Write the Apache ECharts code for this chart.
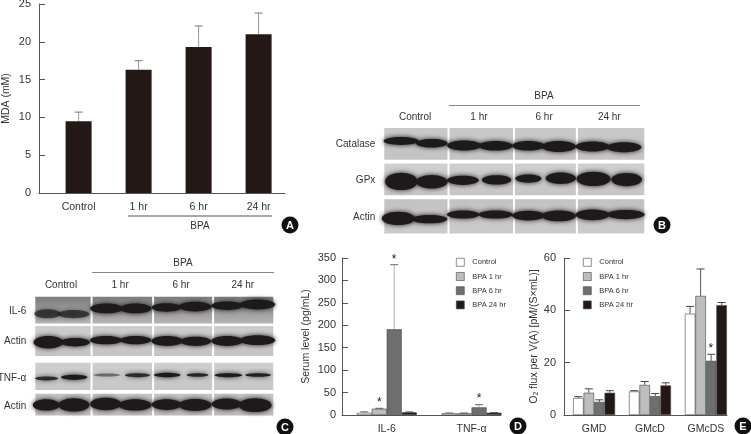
<!DOCTYPE html>
<html>
<head>
<meta charset="utf-8">
<title>BPA figure</title>
<script src="https://cdn.jsdelivr.net/npm/echarts@6/dist/echarts.min.js"></script>
<style>
html, body { margin: 0; padding: 0; background: #fff; }
#chart { width: 751px; height: 434px; }
</style>
</head>
<body>
<div id="chart"></div>
<script>
// panel A
const mdaLabels = ['Control', '1 hr', '6 hr', '24 hr']
const mdaValues = [9.5, 16.3, 19.3, 21]
const mdaTops = [10.7, 17.5, 22.1, 23.8]

// panel D
const serumGroups = ['IL-6', 'TNF-α']
const serumControl = [5, 4]
const serumBpa1 = [14, 4]
const serumBpa6 = [191, 17]
const serumBpa24 = [6, 5]
const serumTops = [[7, 4.5], [15, 4.5], [335, 23], [7, 5.5]]
const serumStars = [[-0.088, 32], [0.088, 350], [1.088, 41]]

// panel E
const fluxGroups = ['GMD', 'GMcD', 'GMcDS']
const fluxControl = [6.5, 9, 38.7]
const fluxBpa1 = [8.5, 11.5, 45.5]
const fluxBpa6 = [5, 7.2, 20.7]
const fluxBpa24 = [8.5, 11.3, 42]
const fluxTops = [[7, 9.3, 41.5], [10, 12.8, 55.8], [5.8, 8.2, 23.2], [9.3, 12.3, 43]]
const fluxStars = [[2.09, 26]]

const legendNames = ['Control', 'BPA 1 hr', 'BPA 6 hr', 'BPA 24 hr']

// blots: each band is [lane x, spread, y inside the row, thickness, darkness]
const catalaseBands = [[.545, .99, .365, .22, 1], [1.48, .88, .43, .24, 1], [2.47, .96, .49, .28, 1], [3.43, .96, .5, .27, 1], [4.43, .91, .5, .27, 1], [5.36, .96, .52, .31, 1], [6.39, .95, .52, .28, 1], [7.35, .97, .54, .28, 1]]
const gpxBands = [[.55, .9, .5, .49, 1], [1.48, .88, .51, .38, 1], [2.43, .88, .47, .26, 1], [3.46, .81, .46, .26, 1], [4.43, .71, .42, .23, 1], [5.42, .83, .41, .32, 1], [6.42, .95, .43, .4, 1], [7.43, .85, .45, .37, 1]]
const actinBandsB = [[.46, .92, .54, .37, 1], [1.41, 1, .56, .23, 1], [2.44, .91, .43, .23, 1], [3.43, .96, .43, .23, 1], [4.43, .91, .46, .27, 1], [5.36, .96, .47, .3, 1], [6.39, .95, .44, .3, 1], [7.4, 1.07, .43, .26, 1]]
const il6Bands = [[.44, .78, .57, .3, .7], [1.31, .97, .58, .28, .7], [2.41, 1, .39, .33, 1], [3.38, .95, .39, .33, 1], [4.41, .9, .36, .28, 1], [5.36, 1, .33, .33, 1], [6.43, .96, .3, .28, 1], [7.44, 1.08, .26, .33, 1]]
const actinBandsC1 = [[.47, .89, .54, .41, 1], [1.36, .89, .54, .28, 1], [2.39, .97, .47, .28, 1], [3.38, .94, .47, .27, 1], [4.43, .96, .5, .33, 1], [5.38, .94, .51, .31, 1], [6.43, .96, .5, .33, 1], [7.44, 1.08, .47, .33, 1]]
const tnfBands = [[.41, .67, .53, .13, .85], [1.33, .78, .49, .17, 1], [2.42, .8, .41, .1, .5], [3.44, .74, .42, .13, .85], [4.43, .78, .41, .15, 1], [5.44, .63, .41, .12, .9], [6.47, .82, .42, .13, 1], [7.46, .76, .41, .12, .95]]
const actinBandsC2 = [[.4, .8, .37, .38, 1], [1.32, .94, .37, .44, 1], [2.38, .94, .34, .41, 1], [3.36, 1, .37, .38, 1], [4.41, .9, .36, .36, 1], [5.36, 1, .37, .4, 1], [6.41, .9, .34, .37, 1], [7.36, 1, .38, .46, 1]]

const laneLabels = ['Control', '1 hr', '6 hr', '24 hr']
const blotBRows = ['Catalase', 'GPx', 'Actin']
const blotCRows = ['IL-6', 'Actin', 'TNF-α', 'Actin']

const FONT = '"Liberation Sans", Arial, sans-serif'
const TEXT = '#333'
const AXIS = '#555'
const BAR_DARK = '#231815'
const COLORS = ['#fff', '#bdbdbd', '#6e6e6e', BAR_DARK]

const plotYAxis = (gridIndex, max, interval, name, nameGap, margin) => ({
  type: 'value',
  gridIndex,
  min: 0,
  max,
  interval,
  name,
  nameLocation: 'middle',
  nameGap,
  nameRotate: 90,
  nameTextStyle: {
    color: TEXT,
    fontFamily: FONT,
    fontSize: 10.5,
    rich: { sub: { fontSize: 7, fontFamily: FONT, color: TEXT, verticalAlign: 'bottom' } }
  },
  axisLine: { show: true, onZero: false, lineStyle: { color: AXIS, width: 1 } },
  axisTick: { show: true, inside: true, length: 6, lineStyle: { color: AXIS, width: 1 } },
  axisLabel: { margin, color: TEXT, fontFamily: FONT, fontSize: 11 },
  splitLine: { show: false }
})

const plotXAxis = (gridIndex, min, max, labels) => ({
  type: 'value',
  gridIndex,
  min,
  max,
  axisLine: { show: true, onZero: false, lineStyle: { color: AXIS, width: 1 } },
  axisTick: { show: false },
  splitLine: { show: false },
  axisLabel: {
    customValues: labels.map((d, i) => i),
    formatter: v => labels[v],
    margin: 9,
    color: TEXT,
    fontFamily: FONT,
    fontSize: 10.5
  }
})

// whisker above a bar, x shifted to its slot in the group
const errorSeries = (axisIndex, values, tops, offset, stem, cap, capWidth) => ({
  type: 'custom',
  xAxisIndex: axisIndex,
  yAxisIndex: axisIndex,
  silent: true,
  z: 1,
  data: values.map((v, i) => [i + offset, v, tops[i]]),
  encode: { x: 0, y: 2 },
  renderItem: (params, api) => {
    const base = api.coord([api.value(0), api.value(1)])
    const top = api.coord([api.value(0), api.value(2)])
    return {
      type: 'group',
      children: [
        { type: 'line', shape: { x1: top[0], y1: base[1], x2: top[0], y2: top[1] }, style: { stroke: stem, lineWidth: 1 } },
        { type: 'line', shape: { x1: top[0] - capWidth, y1: top[1], x2: top[0] + capWidth, y2: top[1] }, style: { stroke: cap, lineWidth: 1 } }
      ]
    }
  }
})

const starSeries = (axisIndex, stars) => ({
  type: 'custom',
  xAxisIndex: axisIndex,
  yAxisIndex: axisIndex,
  silent: true,
  clip: false,
  z: 3,
  data: stars,
  encode: { x: 0, y: 1 },
  renderItem: (params, api) => {
    const p = api.coord([api.value(0), api.value(1)])
    return {
      type: 'text',
      style: { x: p[0], y: p[1] + 2, text: '*', fill: '#222', font: '12px ' + FONT, textAlign: 'center', textVerticalAlign: 'middle' }
    }
  }
})

const groupedBars = (axisIndex, groups, barWidth) => groups.map((values, k) => ({
  name: legendNames[k],
  type: 'bar',
  xAxisIndex: axisIndex,
  yAxisIndex: axisIndex,
  barWidth,
  barGap: 0,
  z: 2,
  itemStyle: { color: COLORS[k], borderColor: '#444', borderWidth: 0.6 },
  data: values.map((v, i) => [i, v])
}))

// grey film strips behind the bands
const panelSeries = (axisIndex, edges, rowTop, rowSpan, shades) => {
  const cells = []
  rowTop.forEach((t, r) => edges.slice(0, -1).forEach((e, c) => cells.push([e, t, edges[c + 1], t + rowSpan[r], r])))
  return {
    type: 'custom',
    xAxisIndex: axisIndex,
    yAxisIndex: axisIndex,
    silent: true,
    z: 1,
    data: cells,
    encode: { x: [0, 2], y: [1, 3] },
    renderItem: (params, api) => {
      const a = api.coord([api.value(0), api.value(1)])
      const b = api.coord([api.value(2), api.value(3)])
      const shade = shades[api.value(4)]
      return {
        type: 'rect',
        shape: { x: a[0] + 1, y: a[1], width: b[0] - a[0] - 2, height: b[1] - a[1] },
        style: {
          fill: new echarts.graphic.LinearGradient(0, 0, 0, 1, [
            { offset: 0, color: shade[0] },
            { offset: 1, color: shade[1] }
          ])
        }
      }
    }
  }
}

const bandSeries = (axisIndex, bands, top) => ({
  type: 'custom',
  xAxisIndex: axisIndex,
  yAxisIndex: axisIndex,
  silent: true,
  z: 2,
  data: bands,
  encode: { x: 0, y: 2 },
  renderItem: (params, api) => {
    const x = api.value(0), spread = api.value(1), y = api.value(2) + top, thick = api.value(3)
    const a = api.coord([x - spread / 2, y - thick / 2])
    const b = api.coord([x + spread / 2, y + thick / 2])
    const fill = 'rgba(30,26,25,' + api.value(4) + ')'
    // lens shaped band with a soft edge, like film
    return {
      type: 'ellipse',
      shape: { cx: (a[0] + b[0]) / 2, cy: (a[1] + b[1]) / 2, rx: (b[0] - a[0]) / 2 + 1.5, ry: (b[1] - a[1]) / 2 },
      style: { fill, shadowBlur: 5, shadowColor: fill }
    }
  }
})

const blotXAxis = (gridIndex, positions) => ({
  type: 'value',
  gridIndex,
  position: 'top',
  min: 0,
  max: 8,
  axisLine: { show: false },
  axisTick: { show: false },
  splitLine: { show: false },
  axisLabel: {
    customValues: positions,
    formatter: v => laneLabels[positions.indexOf(v)],
    margin: 6,
    color: TEXT,
    fontFamily: FONT,
    fontSize: 10
  }
})

const blotYAxis = (gridIndex, max, positions, rows) => ({
  type: 'value',
  gridIndex,
  inverse: true,
  min: 0,
  max,
  axisLine: { show: false, onZero: false },
  axisTick: { show: false },
  splitLine: { show: false },
  axisLabel: {
    customValues: positions,
    formatter: v => rows[positions.indexOf(v)],
    margin: 8,
    color: TEXT,
    fontFamily: FONT,
    fontSize: 10
  }
})

const legendAt = (left, top, size) => ({
  orient: 'vertical',
  left,
  top,
  padding: 0,
  data: legendNames,
  selectedMode: false,
  icon: 'rect',
  itemWidth: size,
  itemHeight: size,
  itemGap: 5.6,
  itemStyle: { borderWidth: 0.6 },
  textStyle: { color: TEXT, fontFamily: FONT, fontSize: 7.5, padding: [0, 0, 0, 3] }
})

const caption = (x, y, text) => ({
  type: 'text',
  style: { x, y, text, fill: TEXT, font: '10px ' + FONT, textAlign: 'center', textVerticalAlign: 'middle' }
})
const rule = (x1, x2, y, stroke) => ({
  type: 'line',
  shape: { x1, y1: y, x2, y2: y },
  style: { stroke, lineWidth: 1 }
})
const badge = (x, y, text) => ({
  type: 'group',
  children: [
    { type: 'circle', shape: { cx: x, cy: y, r: 8.5 }, style: { fill: '#111' } },
    { type: 'text', style: { x, y: y + 0.5, text, fill: '#fff', font: 'bold 11px ' + FONT, textAlign: 'center', textVerticalAlign: 'middle' } }
  ]
})

const bTop = [0, 1, 2]
const bSpan = [0.89, 0.89, 0.96]
const bShade = [['#c9c9c9', '#c4c4c4'], ['#cfcfcf', '#c6c6c6'], ['#c2c2c2', '#cbcbcb']]
const cTop = [0, 0.98, 2.2, 3.24]
const cSpan = [0.89, 1, 0.91, 0.72]
const cShade = [['#7d7d7d', '#b5b5b5'], ['#cdcdcd', '#c4c4c4'], ['#cecece', '#c6c6c6'], ['#c4c4c4', '#bcbcbc']]

const option = {
  animation: false,
  backgroundColor: '#fff',
  textStyle: { fontFamily: FONT },
  legend: [legendAt(456, 258, 8), legendAt(583, 258, 8)],
  grid: [
    { left: 39, top: 4, width: 246, height: 189, outerBoundsMode: 'none' },
    { left: 342, top: 258, width: 159, height: 157, outerBoundsMode: 'none' },
    { left: 564, top: 258, width: 163, height: 157, outerBoundsMode: 'none' },
    { left: 383.3, top: 128, width: 262, height: 106.8, outerBoundsMode: 'none' },
    { left: 34.3, top: 296.7, width: 240, height: 119, outerBoundsMode: 'none' }
  ],
  xAxis: [
    plotXAxis(0, -0.66, 3.44, mdaLabels),
    plotXAxis(1, -0.527, 1.347, serumGroups),
    plotXAxis(2, -0.538, 2.378, fluxGroups),
    blotXAxis(3, [0.97, 2.92, 4.91, 6.9]),
    blotXAxis(4, [0.89, 2.86, 4.89, 6.95])
  ],
  yAxis: [
    plotYAxis(0, 25, 5, 'MDA (mM)', 27, 8),
    plotYAxis(1, 350, 50, 'Serum level (pg/mL)', 30, 6),
    plotYAxis(2, 60, 20, 'O{sub|2} flux per V(A) [pM/(S×mL)]', 18, 8),
    blotYAxis(3, 3, [0.45, 1.46, 2.5], blotBRows),
    blotYAxis(4, 3.97, [0.5, 1.5, 2.71, 3.64], blotCRows)
  ],
  graphic: [
    rule(128, 272, 216, '#555'),
    caption(200, 226, 'BPA'),
    rule(449, 640, 105.5, '#888'),
    caption(544, 96, 'BPA'),
    rule(92, 274, 272.5, '#888'),
    caption(183, 263, 'BPA'),
    badge(290, 225, 'A'),
    badge(662, 225, 'B'),
    badge(285, 427, 'C'),
    badge(518, 426, 'D'),
    badge(743, 426, 'E')
  ],
  series: [
    {
      type: 'bar',
      name: 'MDA',
      xAxisIndex: 0,
      yAxisIndex: 0,
      barWidth: 26,
      z: 2,
      itemStyle: { color: BAR_DARK },
      data: mdaValues.map((v, i) => [i, v])
    },
    errorSeries(0, mdaValues, mdaTops, 0, '#999', '#777', 4),

    ...groupedBars(1, [serumControl, serumBpa1, serumBpa6, serumBpa24], 15),
    ...[serumControl, serumBpa1, serumBpa6, serumBpa24].map((values, k) =>
      errorSeries(1, values, serumTops[k], (k - 1.5) * 15 / 85, k === 2 ? '#b5b5b5' : '#666', '#666', 4)),
    starSeries(1, serumStars),

    ...groupedBars(2, [fluxControl, fluxBpa1, fluxBpa6, fluxBpa24], 10.5),
    ...[fluxControl, fluxBpa1, fluxBpa6, fluxBpa24].map((values, k) =>
      errorSeries(2, values, fluxTops[k], (k - 1.5) * 10.5 / 55.8, '#555', '#444', 4)),
    starSeries(2, fluxStars),

    panelSeries(3, [0, 1.99, 3.99, 5.91, 8], bTop, bSpan, bShade),
    bandSeries(3, catalaseBands, bTop[0]),
    bandSeries(3, gpxBands, bTop[1]),
    bandSeries(3, actinBandsB, bTop[2]),

    panelSeries(4, [0, 1.91, 3.96, 5.96, 8], cTop, cSpan, cShade),
    bandSeries(4, il6Bands, cTop[0]),
    bandSeries(4, actinBandsC1, cTop[1]),
    bandSeries(4, tnfBands, cTop[2]),
    bandSeries(4, actinBandsC2, cTop[3])
  ]
}

const myChart = echarts.init(document.getElementById('chart'), null, { renderer: 'canvas' })
myChart.setOption(option)
</script>
</body>
</html>
